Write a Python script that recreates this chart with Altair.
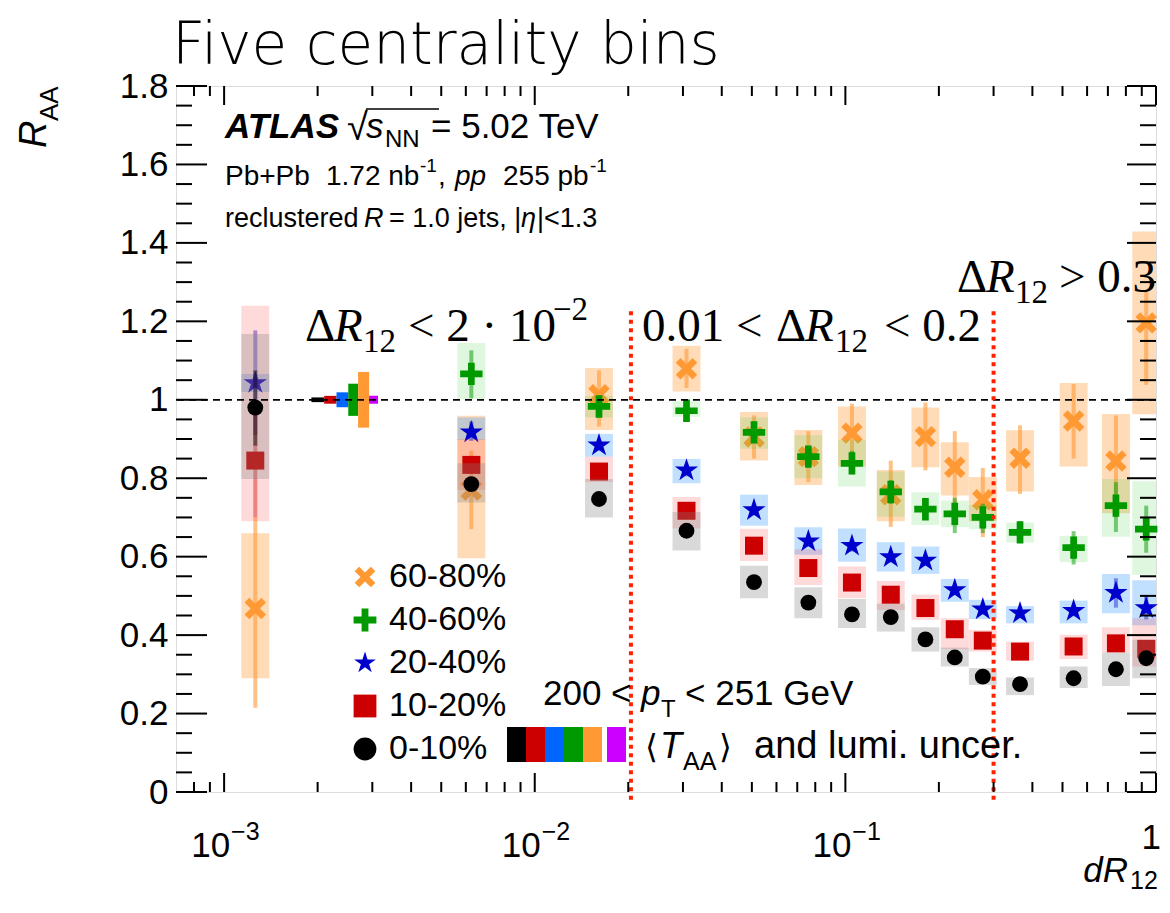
import math
import altair as alt
import pandas as pd

# ---------------- data ----------------
names = ["60-80%", "40-60%", "20-40%", "10-20%", "0-10%"]
marker_colors = ["#FF9933", "#009900", "#0000CC", "#CC0000", "#000000"]

xs = [0.00126, 0.00625, 0.0161, 0.0308, 0.0508, 0.076, 0.105, 0.140,
      0.181, 0.225, 0.277, 0.365, 0.543, 0.743, 0.93]

y_6080 = [0.468, 0.770, 1.013, 1.079, 0.905, 0.855, 0.915, 0.758, 0.906, 0.828, 0.745, 0.851, 0.946, 0.844, 1.196]
slo_6080 = [0.290, 0.596, 0.923, 1.021, 0.845, 0.783, 0.830, 0.690, 0.828, 0.756, 0.690, 0.766, 0.830, 0.711, 0.963]
shi_6080 = [0.660, 0.959, 1.081, 1.138, 0.969, 0.923, 0.983, 0.821, 0.980, 0.892, 0.803, 0.922, 1.043, 0.964, 1.429]
elo_6080 = [0.215, 0.670, 0.932, 1.030, 0.850, 0.790, 0.840, 0.676, 0.820, 0.735, 0.650, 0.760, 0.850, 0.700, 1.038]
ehi_6080 = [0.700, 0.870, 1.075, 1.130, 0.960, 0.920, 0.990, 0.845, 0.993, 0.920, 0.826, 0.935, 1.040, 0.960, 1.276]

y_4060 = [None, 1.066, 0.983, 0.972, 0.917, 0.855, 0.838, 0.765, 0.721, 0.709, 0.700, 0.662, 0.623, 0.730, 0.670]
slo_4060 = [None, 1.002, 0.955, 0.957, 0.875, 0.800, 0.779, 0.702, 0.681, 0.675, 0.670, 0.636, 0.586, 0.651, 0.554]
shi_4060 = [None, 1.145, 1.010, 0.996, 0.955, 0.910, 0.898, 0.817, 0.764, 0.743, 0.732, 0.687, 0.653, 0.798, 0.792]
elo_4060 = [None, 1.004, 0.955, 0.955, 0.890, 0.830, 0.810, 0.735, 0.700, 0.660, 0.660, 0.635, 0.580, 0.663, 0.610]
ehi_4060 = [None, 1.126, 1.005, 0.990, 0.945, 0.880, 0.870, 0.795, 0.745, 0.750, 0.735, 0.690, 0.665, 0.790, 0.730]

y_2040 = [1.043, 0.917, 0.884, 0.820, 0.719, 0.639, 0.628, 0.599, 0.590, 0.515, 0.466, 0.456, 0.462, 0.508, 0.469]
slo_2040 = [1.020, 0.898, 0.855, 0.787, 0.679, 0.605, 0.587, 0.562, 0.556, 0.485, 0.441, 0.430, 0.430, 0.456, 0.425]
shi_2040 = [1.066, 0.955, 0.913, 0.849, 0.758, 0.675, 0.672, 0.637, 0.626, 0.543, 0.490, 0.474, 0.488, 0.556, 0.540]
elo_2040 = [0.910, 0.895, 0.870, 0.805, 0.705, 0.625, 0.613, 0.585, 0.576, 0.502, 0.453, 0.443, 0.448, 0.470, 0.440]
ehi_2040 = [1.177, 0.945, 0.900, 0.835, 0.733, 0.653, 0.643, 0.613, 0.604, 0.528, 0.479, 0.469, 0.476, 0.545, 0.500]

y_1020 = [0.845, 0.834, 0.817, 0.717, 0.628, 0.571, 0.534, 0.503, 0.469, 0.415, 0.386, 0.358, 0.371, 0.379, 0.365]
slo_1020 = [0.690, 0.770, 0.790, 0.672, 0.589, 0.528, 0.494, 0.464, 0.439, 0.364, 0.358, 0.335, 0.339, 0.355, 0.320]
shi_1020 = [1.240, 0.900, 0.855, 0.752, 0.671, 0.619, 0.575, 0.538, 0.503, 0.443, 0.413, 0.383, 0.401, 0.420, 0.443]
elo_1020 = [0.700, 0.815, 0.805, 0.705, 0.616, 0.559, 0.522, 0.491, 0.457, 0.403, 0.374, 0.346, 0.359, 0.367, 0.350]
ehi_1020 = [0.990, 0.853, 0.829, 0.729, 0.640, 0.583, 0.546, 0.515, 0.481, 0.427, 0.398, 0.370, 0.383, 0.391, 0.380]

y_010 = [0.980, 0.785, 0.747, 0.666, 0.535, 0.483, 0.453, 0.446, 0.389, 0.343, 0.294, 0.275, 0.290, 0.313, 0.341]
slo_010 = [0.798, 0.738, 0.700, 0.616, 0.494, 0.443, 0.418, 0.409, 0.358, 0.320, 0.273, 0.247, 0.265, 0.270, 0.290]
shi_010 = [1.168, 0.838, 0.798, 0.714, 0.577, 0.522, 0.492, 0.480, 0.420, 0.368, 0.316, 0.292, 0.320, 0.355, 0.388]
elo_010 = [0.883, 0.775, 0.737, 0.656, 0.525, 0.473, 0.443, 0.436, 0.379, 0.333, 0.284, 0.265, 0.280, 0.300, 0.325]
ehi_010 = [1.075, 0.795, 0.757, 0.676, 0.545, 0.493, 0.463, 0.456, 0.399, 0.353, 0.304, 0.285, 0.300, 0.326, 0.357]

# <T_AA> and lumi uncertainty boxes at R_AA = 1
lumi_edges = [0.00191, 0.00210, 0.00230, 0.00251, 0.00270, 0.00293, 0.00313]
lumi_half = [0.006, 0.010, 0.019, 0.041, 0.071, 0.010]
lumi_colors = ["#000000", "#CC0000", "#0066FF", "#009900", "#FF9933", "#CC00FF"]

region_lines = [0.0204, 0.300]

# ---------------- styling ----------------
SANS = "Liberation Sans"
SERIF = "Liberation Serif"
W, H = 980, 706
OX, OY = 176, 86  # page position of plot origin

box_colors = ["#FF9933", "#33CC33", "#3399FF", "#FF3333", "#808080"]
box_opacity = [0.35, 0.16, 0.30, 0.18, 0.30]
stat_opacity = [0.6, 0.5, 0.4, 0.4, 0.45]
msizes = [560, 500, 600, 324, 250]


def rot45(pts):
    s = 1 / math.sqrt(2)
    return [((x - y) * s, (x + y) * s) for x, y in pts]


def path(pts):
    return "M" + "L".join(f"{x:.4f},{y:.4f}" for x, y in pts) + "Z"


a = 0.28
plus_pts = [(-a, -1), (a, -1), (a, -a), (1, -a), (1, a), (a, a), (a, 1), (-a, 1),
            (-a, a), (-1, a), (-1, -a), (-a, -a)]
X_PATH = path(rot45(plus_pts))
b = 0.3
PLUS_PATH = path([(-b, -1), (b, -1), (b, -b), (1, -b), (1, b), (b, b), (b, 1), (-b, 1),
                  (-b, b), (-1, b), (-1, -b), (-b, -b)])
star = []
for k in range(10):
    r = 1.0 if k % 2 == 0 else 0.38
    ang = math.radians(-90 + 36 * k)
    star.append((r * math.cos(ang), r * math.sin(ang)))
STAR_PATH = path(star)
shapes = [X_PATH, PLUS_PATH, STAR_PATH, "square", "circle"]

xscale = alt.Scale(type="log", domain=[7e-4, 1.0], nice=False)
yscale = alt.Scale(domain=[0, 1.8], nice=False, zero=False)
yaxis = alt.Axis(values=[0, 0.2, 0.4, 0.6, 0.8, 1.0, 1.2, 1.4, 1.6, 1.8],
                 labelExpr="datum.value == 0 ? '0' : (abs(datum.value - 1) < 1e-9 ? '1' : format(datum.value, '.1f'))",
                 labelFontSize=35, labelFont=SANS, labelColor="black", labelPadding=8,
                 ticks=False, domain=False, grid=False, title=None, labelFlush=False,
                 labelOverlap=False, labelBound=False)
cscale = alt.Scale(domain=names, range=marker_colors)
sscale = alt.Scale(domain=names, range=shapes)
leg = alt.Legend(title=None, orient="none", legendX=172, legendY=474, labelFontSize=34,
                 labelFont=SANS, labelColor="black", symbolSize=520, rowPadding=9,
                 labelOffset=7, padding=0, symbolStrokeWidth=0, symbolOpacity=1)

series = [
    (y_6080, slo_6080, shi_6080, elo_6080, ehi_6080),
    (y_4060, slo_4060, shi_4060, elo_4060, ehi_4060),
    (y_2040, slo_2040, shi_2040, elo_2040, ehi_2040),
    (y_1020, slo_1020, shi_1020, elo_1020, ehi_1020),
    (y_010, slo_010, shi_010, elo_010, ehi_010),
]

layers = []

# lumi boxes
lumi_df = pd.DataFrame({"x0": lumi_edges[:-1], "x1": lumi_edges[1:], "h": lumi_half,
                        "c": lumi_colors})
layers.append(
    alt.Chart(lumi_df).transform_calculate(lo="1 - datum.h", hi="1 + datum.h")
    .mark_rect(opacity=1)
    .encode(x=alt.X("x0:Q", scale=xscale, axis=None), x2="x1:Q",
            y=alt.Y("lo:Q", scale=yscale, axis=yaxis), y2="hi:Q",
            fill=alt.Fill("c:N", scale=None, legend=None))
)

for i, (yv, slo, shi, elo, ehi) in enumerate(series):
    df = pd.DataFrame({"x": xs, "y": yv, "slo": slo, "shi": shi, "elo": elo, "ehi": ehi,
                       "cent": names[i]}).dropna()
    base = alt.Chart(df).transform_calculate(xlo="datum.x / 1.109", xhi="datum.x * 1.109")
    layers.append(
        base.mark_rect(color=box_colors[i], opacity=box_opacity[i], clip=True)
        .encode(x=alt.X("xlo:Q", scale=xscale, axis=None), x2="xhi:Q",
                y=alt.Y("slo:Q", scale=yscale, axis=yaxis), y2="shi:Q")
    )
    layers.append(
        base.mark_rule(color=marker_colors[i], opacity=stat_opacity[i], strokeWidth=4)
        .encode(x=alt.X("x:Q", scale=xscale, axis=None),
                y=alt.Y("elo:Q", scale=yscale, axis=yaxis), y2="ehi:Q")
    )
    layers.append(
        base.mark_point(filled=True, opacity=1, size=msizes[i], strokeWidth=0)
        .encode(x=alt.X("x:Q", scale=xscale, axis=None),
                y=alt.Y("y:Q", scale=yscale, axis=yaxis),
                color=alt.Color("cent:N", scale=cscale, legend=leg),
                shape=alt.Shape("cent:N", scale=sscale, legend=leg))
    )

# dashed line at 1
layers.append(
    alt.Chart(pd.DataFrame({"v": [1.0]}))
    .mark_rule(color="black", strokeDash=[7, 5], strokeWidth=1.8)
    .encode(y=alt.Y("v:Q", scale=yscale, axis=yaxis))
)
# red dotted region lines
layers.append(
    alt.Chart(pd.DataFrame({"v": region_lines, "lo": [-0.02, -0.02], "hi": [1.232, 1.235]}))
    .mark_rule(color="#FF2200", strokeDash=[4, 4.5], strokeWidth=4)
    .encode(x=alt.X("v:Q", scale=xscale, axis=None),
            y=alt.Y("lo:Q", scale=yscale, axis=yaxis), y2="hi:Q")
)

# ---- ticks (inside, ROOT style) ----
x_major = [1e-3, 1e-2, 1e-1, 1.0]
x_minor = [8e-4, 9e-4] + [k * d for d in (1e-3, 1e-2, 1e-1) for k in range(2, 10)]
y_major = [round(0.2 * k, 2) for k in range(10)]
y_minor = [round(0.05 * k, 2) for k in range(37) if k % 4 != 0]

def xticks(vals, length):
    d = pd.DataFrame({"v": vals})
    bot = alt.Chart(d).mark_rule(color="black", strokeWidth=2).encode(
        x=alt.X("v:Q", scale=xscale, axis=None), y=alt.value(H), y2=alt.value(H - length))
    top = alt.Chart(d).mark_rule(color="black", strokeWidth=2).encode(
        x=alt.X("v:Q", scale=xscale, axis=None), y=alt.value(0), y2=alt.value(length))
    return [bot, top]

def yticks(vals, lleft, lright):
    d = pd.DataFrame({"v": vals})
    lt = alt.Chart(d).mark_rule(color="black", strokeWidth=2).encode(
        y=alt.Y("v:Q", scale=yscale, axis=yaxis), x=alt.value(0), x2=alt.value(lleft))
    rt = alt.Chart(d).mark_rule(color="black", strokeWidth=2).encode(
        y=alt.Y("v:Q", scale=yscale, axis=yaxis), x=alt.value(W - lright), x2=alt.value(W))
    return [lt, rt]

layers += xticks(x_major, 19) + xticks(x_minor, 10)
layers += yticks(y_major, 31, 29) + yticks(y_minor, 16, 16)

# x tick labels
xl = pd.DataFrame({"v": [1e-3, 1e-2, 1e-1], "base": ["10", "10", "10"],
                   "sup": ["\u22123", "\u22122", "\u22121"]})
layers.append(alt.Chart(xl).mark_text(align="right", baseline="alphabetic", dx=6, fontSize=35,
                                      font=SANS, color="black")
              .encode(x=alt.X("v:Q", scale=xscale, axis=None), y=alt.value(857 - OY), text="base:N"))
layers.append(alt.Chart(xl).mark_text(align="left", baseline="alphabetic", dx=7, fontSize=25,
                                      font=SANS, color="black")
              .encode(x=alt.X("v:Q", scale=xscale, axis=None), y=alt.value(840 - OY), text="sup:N"))
layers.append(alt.Chart(pd.DataFrame({"v": [1.0], "t": ["1"]}))
              .mark_text(align="right", baseline="alphabetic", dx=5, fontSize=35, font=SANS, color="black")
              .encode(x=alt.X("v:Q", scale=xscale, axis=None), y=alt.value(849 - OY), text="t:N"))

# ---------------- annotations ----------------
one = pd.DataFrame({"a": [0]})

def txt(s, x, y, size, font=SANS, style="normal", weight="normal", align="left",
        baseline="alphabetic", angle=None):
    kw = dict(text=s, fontSize=size, font=font, fontStyle=style, fontWeight=weight,
              align=align, baseline=baseline, color="black")
    if angle is not None:
        kw["angle"] = angle
    return alt.Chart(one).mark_text(**kw).encode(x=alt.value(x - OX), y=alt.value(y - OY))

ann = [
    txt("Five centrality bins", 172, 64, 58, font="DejaVu Sans", weight=200),
    # axis titles
    txt("R", 46, 148, 38, style="italic", angle=270),
    txt("AA", 58, 121, 26, angle=270),
    txt("dR", 1128, 882, 35, style="italic", align="right"),
    txt("12", 1130, 889, 25),
    # ATLAS block
    txt("ATLAS", 225, 138, 35, style="italic", weight="bold"),
    txt("\u221a", 347, 140, 38),
    txt("s", 366, 138, 35, style="italic"),
    txt("NN", 385, 147, 24),
    txt("= 5.02 TeV", 431, 138, 35),
    txt("Pb+Pb", 225, 185, 28),
    txt("1.72 nb", 326, 185, 28),
    txt("-1", 420, 172, 19),
    txt(",", 438, 185, 28),
    txt("pp", 455, 185, 28, style="italic"),
    txt("255 pb", 503, 185, 28),
    txt("-1", 590, 172, 19),
    txt("reclustered", 225, 227, 27),
    txt("R", 364, 227, 27, style="italic"),
    txt("= 1.0 jets, |", 389, 227, 27),
    txt("\u03b7", 521, 227, 27, style="italic"),
    txt("|<1.3", 537, 227, 27),
    # region labels
    txt("\u0394", 305, 341, 47, font=SERIF),
    txt("R", 334, 341, 47, font=SERIF, style="italic"),
    txt("12", 363, 352, 33, font=SERIF),
    txt("< 2 \u00b7 10", 408, 341, 47, font=SERIF),
    txt("\u22122", 553, 320, 33, font=SERIF),
    txt("0.01 <", 642, 341, 47, font=SERIF),
    txt("\u0394", 776, 341, 47, font=SERIF),
    txt("R", 805, 341, 47, font=SERIF, style="italic"),
    txt("12", 835, 352, 33, font=SERIF),
    txt("< 0.2", 884, 341, 47, font=SERIF),
    txt("\u0394", 957, 292, 47, font=SERIF),
    txt("R", 986, 292, 47, font=SERIF, style="italic"),
    txt("12", 1015, 303, 33, font=SERIF),
    txt("> 0.3", 1059, 292, 47, font=SERIF),
    # kinematic / lumi text
    txt("200 <", 543, 705, 35),
    txt("p", 641, 705, 35, style="italic"),
    txt("T", 661, 717, 24),
    txt("< 251 GeV", 685, 705, 35),
    txt("\u27e8", 645, 758, 33, font="DejaVu Sans"),
    txt("T", 660, 758, 36, style="italic"),
    txt("AA", 683, 770, 25),
    txt("\u27e9", 719, 758, 33, font="DejaVu Sans"),
    txt("and lumi. uncer.", 754, 758, 38),
]

# overline of the square root
ann.append(alt.Chart(one).mark_rule(color="black", strokeWidth=1.5).encode(
    x=alt.value(366 - OX), x2=alt.value(439 - OX), y=alt.value(109 - OY)))

# colour swatches of the <T_AA>/lumi legend
sw_left = 507
sw_w = 19
for k, c in enumerate(lumi_colors):
    x0 = sw_left + k * sw_w + (5 if k == 5 else 0)
    ann.append(alt.Chart(one).mark_rect(color=c, opacity=1).encode(
        x=alt.value(x0 - OX), x2=alt.value(x0 + sw_w - OX),
        y=alt.value(727 - OY), y2=alt.value(762 - OY)))

chart = alt.layer(*layers, *ann).properties(
    width=W, height=H,
    autosize=alt.AutoSizeParams(type="none"),
    padding={"left": 168, "top": 78, "right": 6, "bottom": 104},
).configure_view(stroke="black", strokeWidth=2.5).configure(background="white")

chart.save("out.html", embed_options={"renderer": "svg", "actions": False})
